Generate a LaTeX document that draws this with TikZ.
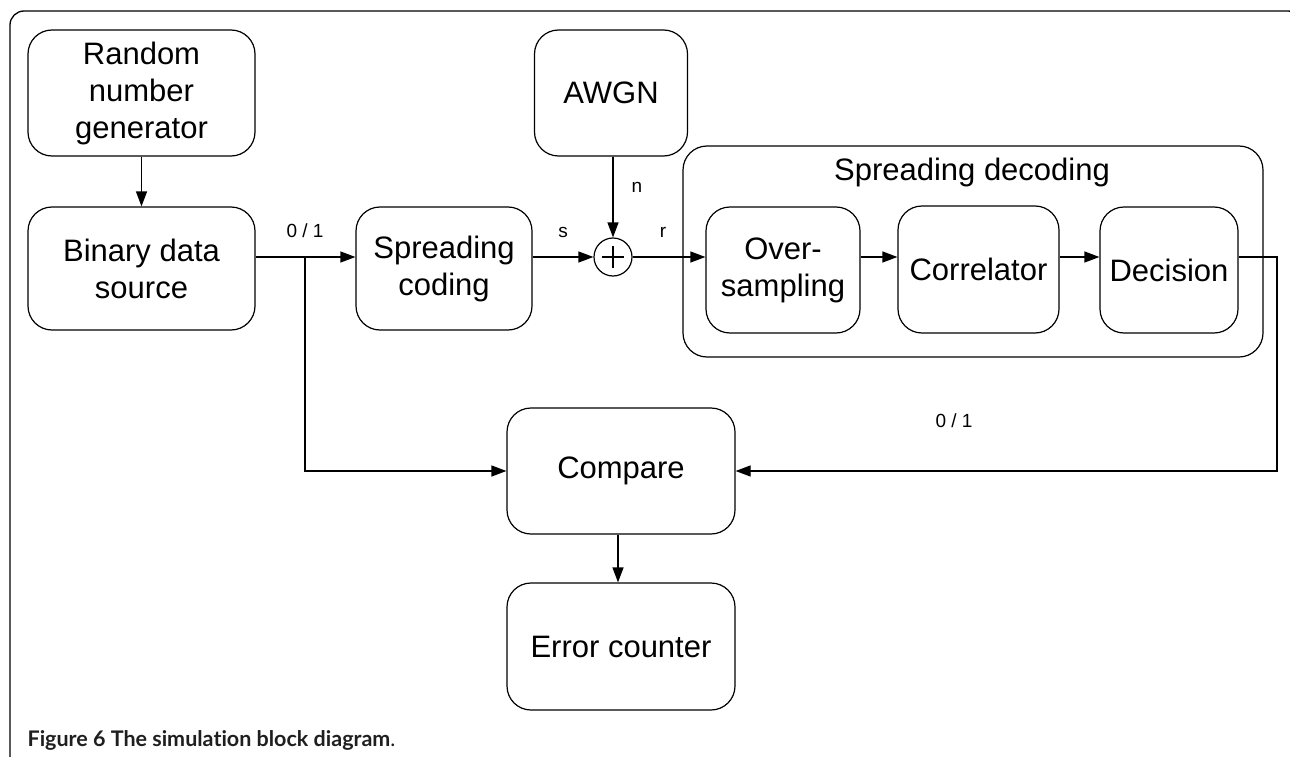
\documentclass[tikz,border=0pt]{standalone}
\usepackage{fontspec}
\setmainfont{Liberation Sans}
\newfontfamily\capfont[Ligatures=NoCommon]{Lato}
\usetikzlibrary{arrows.meta,calc}
\begin{document}
\begin{tikzpicture}[x=1pt,y=-1pt, line width=1.2pt,
 blk/.style={draw, rounded corners=24pt, inner sep=0pt, align=center,
   font=\fontsize{31}{37}\selectfont},
 lbl/.style={font=\fontsize{19}{22}\selectfont, inner sep=0pt},
 arr/.style={-{Triangle[length=15pt,width=11pt]}}]
\useasboundingbox (0,0) rectangle (1290,757);
\begin{scope}
\clip (0,0) rectangle (1290,757);
\draw[line width=1.3pt, rounded corners=14pt] (10,11) rectangle (1302,775);
\end{scope}
% blocks
\node[blk, minimum width=227pt, minimum height=126pt] (rng) at (141.5,93) {Random\\number\\generator};
\node[blk, minimum width=227pt, minimum height=123pt] (bin) at (141.5,268.5) {Binary data\\source};
\node[blk, minimum width=176pt, minimum height=123pt] (spc) at (444,268.5) {Spreading\\coding};
\node[blk, minimum width=153pt, minimum height=126pt] (awgn) at (611,93) {AWGN};
\node[draw, circle, minimum size=38pt, inner sep=0pt] (sum) at (613,257) {};
\draw[line width=1.6pt] (sum.center) ++(-11,0) -- ++(22,0);
\draw[line width=1.6pt] (sum.center) ++(0,-11) -- ++(0,22);
\node[blk, minimum width=580pt, minimum height=211pt] (dcd) at (973,251.5) {};
\node[font=\fontsize{31}{37}\selectfont, inner sep=0pt] (dcdt) at (972,172) {Spreading decoding};
\node[blk, minimum width=154pt, minimum height=126pt] (ovs) at (783,270) {Over-\\sampling};
\node[blk, minimum width=161pt, minimum height=127pt] (cor) at (978.5,269.5) {Correlator};
\node[blk, minimum width=138pt, minimum height=126pt] (dec) at (1169,270) {Decision};
\node[blk, minimum width=228pt, minimum height=126pt] (cmp) at (621,471) {Compare};
\node[blk, minimum width=228pt, minimum height=127pt] (err) at (621,646.5) {Error counter};
% labels
\node[lbl] (l01a) at (305,231) {0 / 1};
\node[lbl] (ls) at (563,232) {s};
\node[lbl] (lr) at (663,232) {r};
\node[lbl] (ln) at (637,187) {n};
\node[lbl] (l01b) at (954,421) {0 / 1};
% connectors
\coordinate (j) at (305,257);
\coordinate (c1) at (1277,257);
\draw[arr] (rng) -- (bin);
\draw[arr] (bin.east |- sum) -- (spc.west |- sum);
\draw[arr] (spc.east |- sum) -- (sum);
\draw[arr] (awgn.south -| sum) -- (sum);
\draw[arr] (sum) -- (ovs.west |- sum);
\draw[arr] (ovs.east |- sum) -- (cor.west |- sum);
\draw[arr] (cor.east |- sum) -- (dec.west |- sum);
\draw[arr] (dec.east |- sum) -- (c1) |- (cmp.east);
\draw[arr] (j) |- (cmp.west);
\draw[arr] (cmp.south -| 618,0) -- (err.north -| 618,0);
% caption
\node[anchor=base west, inner sep=0pt, font=\capfont\fontsize{21.5}{25}\selectfont, text=black!88] (cap) at (27,746) {\textbf{Figure 6 The simulation block diagram}.};
\end{tikzpicture}
\end{document}
